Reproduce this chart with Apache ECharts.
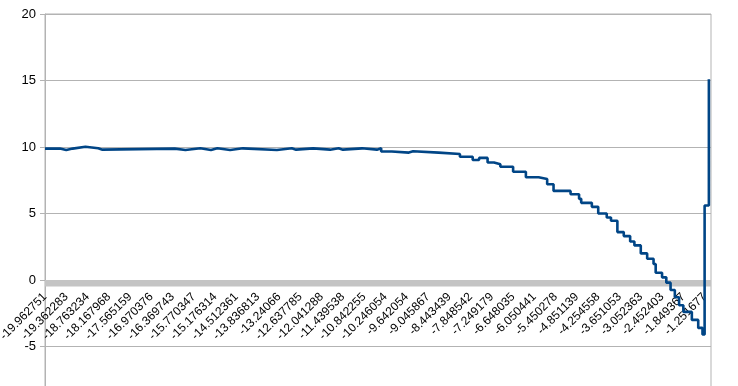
<!DOCTYPE html>
<html>
<head>
<meta charset="utf-8">
<script src="https://cdn.jsdelivr.net/npm/echarts@6/dist/echarts.min.js"></script>
<style>html,body{margin:0;padding:0;background:#fff}#c{width:738px;height:386px}</style>
</head>
<body>
<div id="c"></div>
<script>
// Category tick labels (one every 10 categories)
var tickLabels = ["-19.962751","-19.362283","-18.763234","-18.167968","-17.565159","-16.970376","-16.369743","-15.770347","-15.176314","-14.512361","-13.836813","-13.24066","-12.637785","-12.041288","-11.439538","-10.842255","-10.246054","-9.642054","-9.045867","-8.443439","-7.848542","-7.249179","-6.648035","-6.050441","-5.450278","-4.851139","-4.254558","-3.651053","-3.052363","-2.452403","-1.849367","-1.251677"];
var categoryCount = 314;
var labelEvery = 10;
// Series: category index where the value changes, and the value from there on
var stepIdx = [0,7,10,13,19,25,27,61,66,73,78,81,87,93,109,116,118,126,134,138,140,149,156,158,163,171,173,185,195,201,204,208,211,214,220,226,232,236,239,247,251,252,257,260,264,266,269,272,275,277,280,283,286,287,290,292,294,296,298,300,304,307,309,310,312];
var stepVal = [9.88,9.77,9.88,10.02,9.9,9.8,9.88,9.78,9.9,9.78,9.9,9.78,9.9,9.78,9.9,9.8,9.9,9.8,9.9,9.8,9.9,9.8,9.9,9.66,9.58,9.68,9.58,9.47,9.27,9.02,9.18,8.84,8.7,8.52,8.14,7.72,7.6,7.2,6.7,6.45,6.1,5.8,5.5,5.0,4.7,4.45,3.6,3.3,2.9,2.6,2.0,1.6,1.2,0.55,0.2,-0.2,-0.75,-1.3,-1.9,-2.4,-3.0,-3.6,-4.1,5.6,15.1];

var yMin = -10, yMax = 20;
var data = stepIdx.map(function(x, i){ return [x, stepVal[i]]; });
var gray = '#b3b3b3';
var gridTop = 14, gridBottom = -27;
var plotH = 386 - gridTop - gridBottom;
var labelGridBottom = gridBottom + plotH * (0 - yMin) / (yMax - yMin);
function fmt(v){
  var k = Math.round(v / labelEvery);
  if (Math.abs(v - k * labelEvery) > 1e-6) return '';
  return tickLabels[k] || '';
}
var chart = echarts.init(document.getElementById('c'));
chart.setOption({
  animation: false,
  grid: [
    {left: 45, right: 27, top: gridTop, bottom: gridBottom, show: true, borderColor: gray, borderWidth: 1, containLabel: false, outerBoundsMode: 'none'},
    {left: 45, right: 27, top: gridTop, bottom: labelGridBottom, show: false, containLabel: false, outerBoundsMode: 'none'}
  ],
  xAxis: [{
    gridIndex: 0, type: 'value', min: 0, max: categoryCount - 1, interval: labelEvery,
    axisLine: {show: false},
    axisTick: {show: false},
    splitLine: {show: false},
    axisLabel: {show: false}
  }, {
    gridIndex: 1, type: 'value', min: 0, max: categoryCount - 1, interval: labelEvery,
    position: 'bottom',
    axisLine: {show: false, onZero: false},
    axisTick: {show: false},
    splitLine: {show: false},
    axisLabel: {
      rotate: 45, margin: 15, fontSize: 12, color: '#000', fontFamily: 'Liberation Sans',
      showMaxLabel: false, hideOverlap: false, formatter: fmt
    }
  }],
  yAxis: [{
    gridIndex: 0, type: 'value', min: yMin, max: yMax, interval: 5,
    axisLine: {show: true, onZero: false, lineStyle: {color: gray}},
    axisTick: {show: true, length: 5, lineStyle: {color: gray}},
    splitLine: {show: true, lineStyle: {color: gray}},
    axisLabel: {fontSize: 13, margin: 9, color: '#000', fontFamily: 'Liberation Sans'}
  }, {
    gridIndex: 1, type: 'value', min: 0, max: 1, show: false
  }],
  series: [{
    type: 'line', xAxisIndex: 0, yAxisIndex: 0, data: data, step: 'end', symbol: 'none',
    lineStyle: {color: '#004586', width: 2.6}, z: 5,
    markArea: {
      silent: true,
      itemStyle: {color: '#c4c4c4'},
      data: [[{xAxis: 0, yAxis: 0}, {xAxis: categoryCount - 1, yAxis: -0.48}]]
    }
  }]
});
</script>
</body>
</html>
